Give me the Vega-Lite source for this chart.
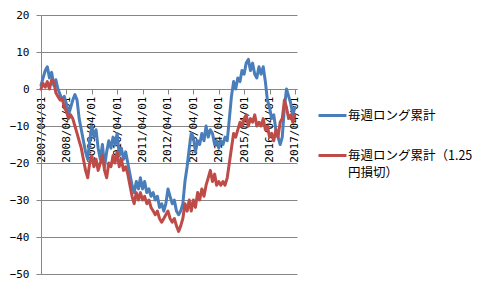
{
  "$schema": "https://vega.github.io/schema/vega-lite/v6.json",
  "width": 256,
  "height": 259,
  "autosize": {"type": "none"},
  "padding": {"left": 41, "top": 15, "right": 186, "bottom": 17},
  "background": "white",
  "config": {"view": {"stroke": null}},
  "data": {"values": [
    {"date":"2007/04/01","long":1,"stop":0},
    {"date":"2007/05/01","long":3,"stop":1.5},
    {"date":"2007/06/01","long":5,"stop":0.5},
    {"date":"2007/07/01","long":6,"stop":2},
    {"date":"2007/08/01","long":3,"stop":0},
    {"date":"2007/09/01","long":4.5,"stop":2.5},
    {"date":"2007/10/01","long":1,"stop":2},
    {"date":"2007/11/01","long":2.5,"stop":-1},
    {"date":"2007/12/01","long":0,"stop":-2},
    {"date":"2008/01/01","long":-1.5,"stop":-3},
    {"date":"2008/02/01","long":-3,"stop":-2.5},
    {"date":"2008/03/01","long":-2,"stop":-5},
    {"date":"2008/04/01","long":-4,"stop":-6},
    {"date":"2008/05/01","long":-7,"stop":-8},
    {"date":"2008/06/01","long":-5,"stop":-7},
    {"date":"2008/07/01","long":-3,"stop":-8},
    {"date":"2008/08/01","long":-1.5,"stop":-10},
    {"date":"2008/09/01","long":-3,"stop":-12},
    {"date":"2008/10/01","long":-8,"stop":-14},
    {"date":"2008/11/01","long":-11,"stop":-16},
    {"date":"2008/12/01","long":-14,"stop":-19},
    {"date":"2009/01/01","long":-17,"stop":-22},
    {"date":"2009/02/01","long":-19,"stop":-24},
    {"date":"2009/03/01","long":-14,"stop":-20},
    {"date":"2009/04/01","long":-10,"stop":-18},
    {"date":"2009/05/01","long":-13,"stop":-21},
    {"date":"2009/06/01","long":-11,"stop":-19},
    {"date":"2009/07/01","long":-16,"stop":-22},
    {"date":"2009/08/01","long":-19,"stop":-20},
    {"date":"2009/09/01","long":-15,"stop":-18},
    {"date":"2009/10/01","long":-21,"stop":-22},
    {"date":"2009/11/01","long":-17,"stop":-24},
    {"date":"2009/12/01","long":-14,"stop":-20},
    {"date":"2010/01/01","long":-16,"stop":-21},
    {"date":"2010/02/01","long":-13,"stop":-18},
    {"date":"2010/03/01","long":-15,"stop":-20},
    {"date":"2010/04/01","long":-12,"stop":-17},
    {"date":"2010/05/01","long":-18,"stop":-21},
    {"date":"2010/06/01","long":-16,"stop":-19},
    {"date":"2010/07/01","long":-19,"stop":-22},
    {"date":"2010/08/01","long":-17,"stop":-21},
    {"date":"2010/09/01","long":-20,"stop":-23},
    {"date":"2010/10/01","long":-23,"stop":-26},
    {"date":"2010/11/01","long":-26,"stop":-29},
    {"date":"2010/12/01","long":-28,"stop":-31},
    {"date":"2011/01/01","long":-25,"stop":-28},
    {"date":"2011/02/01","long":-27,"stop":-30},
    {"date":"2011/03/01","long":-24,"stop":-28},
    {"date":"2011/04/01","long":-27,"stop":-30},
    {"date":"2011/05/01","long":-25,"stop":-29},
    {"date":"2011/06/01","long":-28,"stop":-31},
    {"date":"2011/07/01","long":-27,"stop":-30},
    {"date":"2011/08/01","long":-29,"stop":-32},
    {"date":"2011/09/01","long":-28,"stop":-33},
    {"date":"2011/10/01","long":-30,"stop":-34},
    {"date":"2011/11/01","long":-29,"stop":-33},
    {"date":"2011/12/01","long":-32,"stop":-35},
    {"date":"2012/01/01","long":-31,"stop":-36},
    {"date":"2012/02/01","long":-33,"stop":-35},
    {"date":"2012/03/01","long":-31,"stop":-34},
    {"date":"2012/04/01","long":-27,"stop":-33},
    {"date":"2012/05/01","long":-29,"stop":-35},
    {"date":"2012/06/01","long":-31,"stop":-36},
    {"date":"2012/07/01","long":-30,"stop":-35},
    {"date":"2012/08/01","long":-33,"stop":-37},
    {"date":"2012/09/01","long":-34,"stop":-38.5},
    {"date":"2012/10/01","long":-33,"stop":-37},
    {"date":"2012/11/01","long":-31,"stop":-35},
    {"date":"2012/12/01","long":-25,"stop":-31},
    {"date":"2013/01/01","long":-21,"stop":-33},
    {"date":"2013/02/01","long":-16,"stop":-30},
    {"date":"2013/03/01","long":-12,"stop":-33},
    {"date":"2013/04/01","long":-13,"stop":-30},
    {"date":"2013/05/01","long":-17,"stop":-32},
    {"date":"2013/06/01","long":-14,"stop":-28},
    {"date":"2013/07/01","long":-15,"stop":-30},
    {"date":"2013/08/01","long":-12,"stop":-27},
    {"date":"2013/09/01","long":-14,"stop":-29},
    {"date":"2013/10/01","long":-10,"stop":-26},
    {"date":"2013/11/01","long":-13,"stop":-24},
    {"date":"2013/12/01","long":-11,"stop":-22},
    {"date":"2014/01/01","long":-12,"stop":-25},
    {"date":"2014/02/01","long":-15,"stop":-23},
    {"date":"2014/03/01","long":-14,"stop":-26},
    {"date":"2014/04/01","long":-16,"stop":-25},
    {"date":"2014/05/01","long":-14,"stop":-26},
    {"date":"2014/06/01","long":-15,"stop":-25},
    {"date":"2014/07/01","long":-13,"stop":-26},
    {"date":"2014/08/01","long":-14,"stop":-24},
    {"date":"2014/09/01","long":-8,"stop":-20},
    {"date":"2014/10/01","long":-2,"stop":-16},
    {"date":"2014/11/01","long":2,"stop":-12},
    {"date":"2014/12/01","long":0,"stop":-13},
    {"date":"2015/01/01","long":3,"stop":-11},
    {"date":"2015/02/01","long":2,"stop":-9},
    {"date":"2015/03/01","long":5,"stop":-10},
    {"date":"2015/04/01","long":4,"stop":-8},
    {"date":"2015/05/01","long":7,"stop":-7},
    {"date":"2015/06/01","long":8,"stop":-10},
    {"date":"2015/07/01","long":5,"stop":-8},
    {"date":"2015/08/01","long":7,"stop":-9},
    {"date":"2015/09/01","long":4,"stop":-7},
    {"date":"2015/10/01","long":3,"stop":-10},
    {"date":"2015/11/01","long":6,"stop":-9},
    {"date":"2015/12/01","long":4,"stop":-10},
    {"date":"2016/01/01","long":6,"stop":-8},
    {"date":"2016/02/01","long":2,"stop":-11},
    {"date":"2016/03/01","long":-3,"stop":-10},
    {"date":"2016/04/01","long":-5,"stop":-13},
    {"date":"2016/05/01","long":-8,"stop":-12},
    {"date":"2016/06/01","long":-7,"stop":-14},
    {"date":"2016/07/01","long":-11,"stop":-11},
    {"date":"2016/08/01","long":-13,"stop":-13},
    {"date":"2016/09/01","long":-15,"stop":-9},
    {"date":"2016/10/01","long":-13,"stop":-8},
    {"date":"2016/11/01","long":-5,"stop":-3},
    {"date":"2016/12/01","long":0,"stop":-5},
    {"date":"2017/01/01","long":-2,"stop":-8},
    {"date":"2017/02/01","long":-4,"stop":-7},
    {"date":"2017/03/01","long":-7,"stop":-9},
    {"date":"2017/04/01","long":-5,"stop":-7}
  ]},
  "transform": [{"fold": ["long", "stop"], "as": ["series", "value"]}],
  "mark": {"type": "line", "strokeWidth": 3, "strokeJoin": "round", "strokeCap": "round"},
  "encoding": {
    "x": {
      "field": "date", "type": "temporal",
      "scale": {"domain": [{"year": 2007, "month": 4, "date": 1}, {"year": 2017, "month": 5, "date": 1}], "nice": false},
      "axis": {
        "title": null, "orient": "bottom", "offset": -185,
        "values": [
          {"year": 2007, "month": 4, "date": 1}, {"year": 2008, "month": 4, "date": 1},
          {"year": 2009, "month": 4, "date": 1}, {"year": 2010, "month": 4, "date": 1},
          {"year": 2011, "month": 4, "date": 1}, {"year": 2012, "month": 4, "date": 1},
          {"year": 2013, "month": 4, "date": 1}, {"year": 2014, "month": 4, "date": 1},
          {"year": 2015, "month": 4, "date": 1}, {"year": 2016, "month": 4, "date": 1},
          {"year": 2017, "month": 4, "date": 1}
        ],
        "format": "%Y/%m/%d", "labelAngle": -90,
        "labelFont": "DejaVu Sans Mono", "labelFontSize": 11, "labelColor": "black",
        "domainColor": "#868686", "tickColor": "#868686", "tickSize": 5,
        "labelPadding": 2, "grid": false, "labelOverlap": false, "labelBound": false, "labelFlush": false
      }
    },
    "y": {
      "field": "value", "type": "quantitative",
      "scale": {"domain": [-50, 20], "nice": false},
      "axis": {
        "title": null, "values": [-50, -40, -30, -20, -10, 0, 10, 20],
        "labelFont": "DejaVu Sans Mono", "labelFontSize": 11, "labelColor": "black",
        "domainColor": "#868686", "tickColor": "#868686", "gridColor": "#868686",
        "tickSize": 5, "labelPadding": 7
      }
    },
    "color": {
      "field": "series", "type": "nominal",
      "scale": {"domain": ["long", "stop"], "range": ["#4A7EBB", "#BE4B48"]},
      "legend": {
        "title": null, "orient": "none", "legendX": 276, "legendY": 85,
        "symbolType": "stroke", "symbolSize": 784, "symbolStrokeWidth": 3,
        "labelFont": "Noto Sans CJK JP", "labelFontSize": 12.5, "labelColor": "black",
        "labelOffset": 0, "rowPadding": 18, "labelLimit": 200,
        "labelExpr": "datum.value == 'long' ? '毎週ロング累計' : ['毎週ロング累計（1.25', '円損切）']",
        "encode": {"labels": {"update": {"lineHeight": {"value": 17}}}}
      }
    }
  }
}
